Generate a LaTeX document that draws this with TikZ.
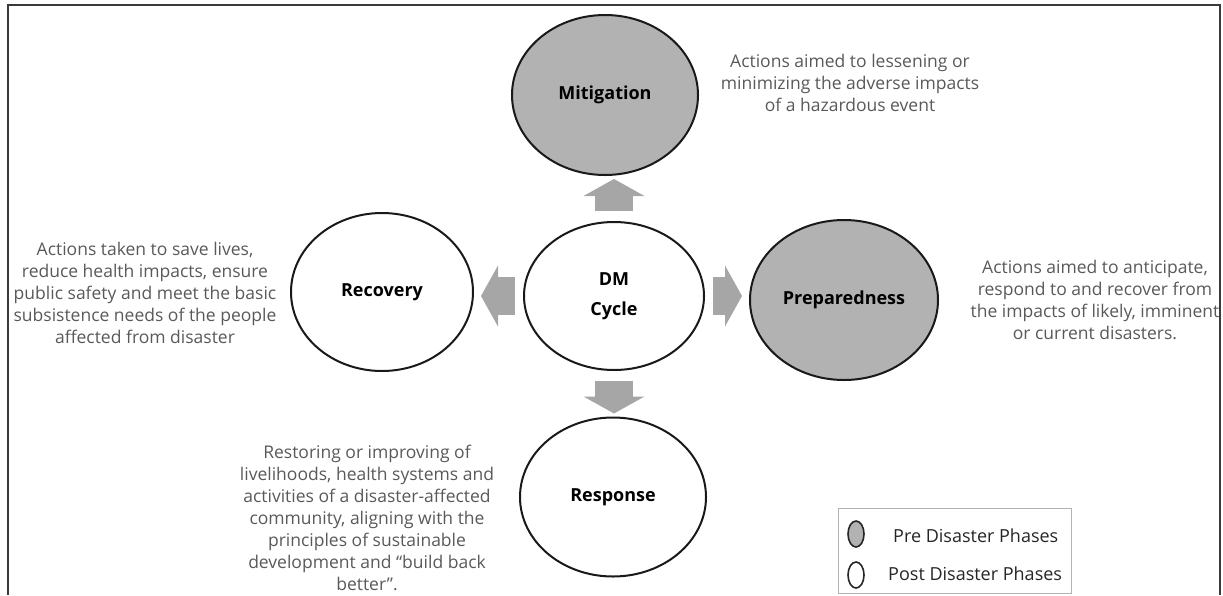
\documentclass[tikz,border=0pt]{standalone}
\usepackage{fontspec}
\setmainfont{Open Sans}
\usepackage{tikz}
\usetikzlibrary{shapes.geometric, arrows.meta}

\definecolor{phasegray}{HTML}{B2B2B2}
\definecolor{arrowgray}{HTML}{A6A6A6}
\definecolor{descgray}{HTML}{595959}
\definecolor{framegray}{HTML}{3A3A3A}

\begin{document}
\begin{tikzpicture}[
    x=1pt, y=-1pt,
    phase/.style={ellipse, draw=black!90, line width=2pt, inner sep=0pt, font=\fontsize{18}{22}\selectfont\bfseries, align=center},
    pre/.style={phase, fill=phasegray},
    post/.style={phase, fill=white},
    desc/.style={align=center, text=descgray, inner sep=0pt, font=\fontsize{17.5}{22}\selectfont},
    bigarrow/.style={draw=arrowgray, line width=38pt, -{Triangle[length=17pt, width=61pt, line width=0pt]}},
    key/.style={ellipse, draw=black!85, line width=1.6pt, minimum width=16pt, minimum height=26pt, inner sep=0pt},
    keytext/.style={anchor=west, text=black!85, inner sep=0pt, font=\fontsize{18}{22}\selectfont}
]
\useasboundingbox (0,0) rectangle (1223,595);

% phases
\node[pre, minimum width=186pt, minimum height=160pt] (mit) at (605,95) {Mitigation};
\node[post, minimum width=180pt, minimum height=148pt] (dm) at (614,296) {DM\\[8pt]Cycle};
\node[post, minimum width=182pt, minimum height=158pt] (rec) at (382,292) {Recovery};
\node[pre, minimum width=188pt, minimum height=160pt] (prep) at (844,300) {Preparedness};
\node[post, minimum width=186pt, minimum height=159pt] (resp) at (613,497) {Response};

% block arrows
\draw[bigarrow, shorten <=10pt, shorten >=3pt] (dm.north) -- (dm.north |- mit.south);
\draw[bigarrow, shorten <=10pt, shorten >=3pt] (dm.south) -- (dm.south |- resp.north);
\draw[bigarrow, shorten <=8pt, shorten >=7pt] (dm.west) -- (dm.west -| rec.east);
\draw[bigarrow, shorten <=8pt, shorten >=7pt] (dm.east) -- (dm.east -| prep.west);

% descriptions
\node[desc] (mitdesc) at (850,83) {Actions aimed to lessening or\\minimizing the adverse impacts\\of a hazardous event};
\node[desc] (recdesc) at (145,293) {Actions taken to save lives,\\reduce health impacts, ensure\\public safety and meet the basic\\subsistence needs of the people\\affected from disaster};
\node[desc] (prepdesc) at (1095,300) {Actions aimed to anticipate,\\respond to and recover from\\the impacts of likely, imminent\\or current disasters.};
\node[desc] (respdesc) at (367,518) {Restoring or improving of\\livelihoods, health systems and\\activities of a disaster-affected\\community, aligning with the\\principles of sustainable\\development and ``build back\\better''.};

% legend
\draw[black!30, line width=0.8pt] (838,508) rectangle (1071,593);
\node[key, fill=phasegray] (prekey) at (856,534) {};
\node[key, fill=white] (postkey) at (856,575) {};
\node[keytext] (pretext) at (893,536) {Pre Disaster Phases};
\node[keytext] (posttext) at (888,574) {Post Disaster Phases};

% frame
\draw[framegray, line width=2pt] (8,595) -- (8,5) -- (1220,5) -- (1220,595);
\end{tikzpicture}
\end{document}
